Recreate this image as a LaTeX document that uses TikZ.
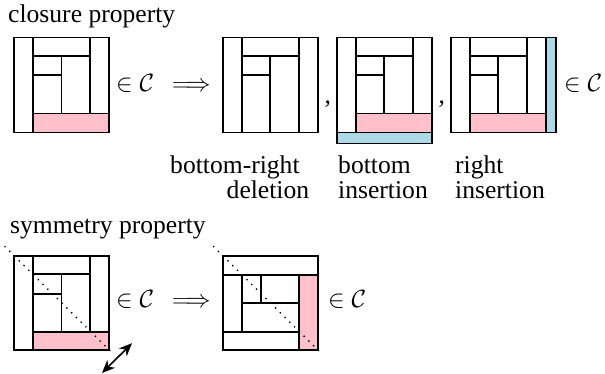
\documentclass[tikz,border=0pt]{standalone}
\usepackage{fontspec}
\setmainfont{Liberation Serif}
\usetikzlibrary{arrows.meta}
\definecolor{pinkfill}{RGB}{255,192,203}
\definecolor{bluefill}{RGB}{173,216,230}
\tikzset{
  wall/.style={draw=black,line width=1.6pt},
  lbl/.style={inner sep=0pt,anchor=base west,font=\fontsize{25.6}{30}\selectfont},
  diag/.style={line width=1.9pt,line cap=round,dash pattern=on 0pt off 6.7pt},
  flip/.style={line width=1.6pt,{Stealth[length=13pt,width=11pt]}-{Stealth[length=13pt,width=11pt]}}
}
\begin{document}
\begin{tikzpicture}[x=1pt,y=-1pt]
\useasboundingbox (0,0) rectangle (605,373);
% --- titles
\node[lbl] (t1) at (8,22) {closure property};
\node[lbl] (t2) at (10,233) {symmetry property};
% --- square 1 (original)
\begin{scope}[shift={(14,37.5)}]
  \fill[pinkfill] (19,76) rectangle (95,95);
  \draw[wall] (0,0) rectangle (95,95);
  \draw[wall] (19,0) -- (19,95);
  \draw[wall] (76,0) -- (76,76);
  \draw[wall] (19,18.5) -- (76,18.5);
  \draw[wall] (47.5,18.5) -- (47.5,76);
  \draw[wall] (19,37.5) -- (47.5,37.5);
  \draw[wall] (19,76) -- (95,76);
\end{scope}
\node[lbl] (m1) at (116,91) {$\in\mathcal{C}\;\,\Longrightarrow$};
% --- square 2 (bottom-right deletion)
\begin{scope}[shift={(222.7,37.5)}]
  \draw[wall] (0,0) rectangle (95,95);
  \draw[wall] (19,0) -- (19,95);
  \draw[wall] (76,0) -- (76,95);
  \draw[wall] (19,18.5) -- (76,18.5);
  \draw[wall] (47.5,18.5) -- (47.5,95);
  \draw[wall] (19,37.5) -- (47.5,37.5);
\end{scope}
\node[lbl] (c1) at (324.5,103) {,};
% --- square 3 (bottom insertion)
\begin{scope}[shift={(336.7,37.5)}]
  \fill[pinkfill] (19,76) rectangle (95,95);
  \fill[bluefill] (0,95) rectangle (95,106);
  \draw[wall] (0,95) rectangle (95,106);
  \draw[wall] (0,0) rectangle (95,95);
  \draw[wall] (19,0) -- (19,95);
  \draw[wall] (76,0) -- (76,76);
  \draw[wall] (19,18.5) -- (76,18.5);
  \draw[wall] (47.5,18.5) -- (47.5,76);
  \draw[wall] (19,37.5) -- (47.5,37.5);
  \draw[wall] (19,76) -- (95,76);
\end{scope}
\node[lbl] (c2) at (438.3,103) {,};
% --- square 4 (right insertion)
\begin{scope}[shift={(450.7,37.5)}]
  \fill[pinkfill] (19,76) rectangle (95,95);
  \fill[bluefill] (95,0) rectangle (105.3,95);
  \draw[wall] (95,0) rectangle (105.3,95);
  \draw[wall] (0,0) rectangle (95,95);
  \draw[wall] (19,0) -- (19,95);
  \draw[wall] (76,0) -- (76,76);
  \draw[wall] (19,18.5) -- (76,18.5);
  \draw[wall] (47.5,18.5) -- (47.5,76);
  \draw[wall] (19,37.5) -- (47.5,37.5);
  \draw[wall] (19,76) -- (95,76);
\end{scope}
\node[lbl] (m2) at (564,91) {$\in\mathcal{C}$};
% --- captions
\node[lbl] (l1) at (170,173) {bottom-right};
\node[lbl] (l2) at (226.5,198) {deletion};
\node[lbl] (l3) at (338,173) {bottom};
\node[lbl] (l4) at (338,198) {insertion};
\node[lbl] (l5) at (455,173) {right};
\node[lbl] (l6) at (455,198) {insertion};
% --- symmetry square 1
\begin{scope}[shift={(14,255.7)}]
  \fill[pinkfill] (19,76) rectangle (95,94.3);
  \draw[wall] (0,0) rectangle (95,94.3);
  \draw[wall] (19,0) -- (19,94.3);
  \draw[wall] (76,0) -- (76,76);
  \draw[wall] (19,18.5) -- (76,18.5);
  \draw[wall] (47.5,18.5) -- (47.5,76);
  \draw[wall] (19,38) -- (47.5,38);
  \draw[wall] (19,76) -- (95,76);
  \coordinate (d1a) at (-9,-9);
  \coordinate (d1b) at (100,99);
  \coordinate (f1a) at (88,117.3);
  \coordinate (f1b) at (118,87.5);
\end{scope}
\draw[diag] (d1a) -- (d1b);
\draw[flip] (f1a) -- (f1b);
\node[lbl] (m3) at (116,307) {$\in\mathcal{C}\;\,\Longrightarrow$};
% --- symmetry square 2 (transposed)
\begin{scope}[shift={(222.7,255.7)}]
  \fill[pinkfill] (76,19) rectangle (95,94.3);
  \draw[wall] (0,0) rectangle (95,94.3);
  \draw[wall] (0,19) -- (95,19);
  \draw[wall] (19,19) -- (19,76);
  \draw[wall] (0,76) -- (76,76);
  \draw[wall] (76,19) -- (76,94.3);
  \draw[wall] (38,19) -- (38,47);
  \draw[wall] (19,47) -- (76,47);
  \coordinate (d2a) at (-9,-9);
  \coordinate (d2b) at (100,99);
\end{scope}
\draw[diag] (d2a) -- (d2b);
\node[lbl] (m4) at (328,307) {$\in\mathcal{C}$};
\end{tikzpicture}
\end{document}
